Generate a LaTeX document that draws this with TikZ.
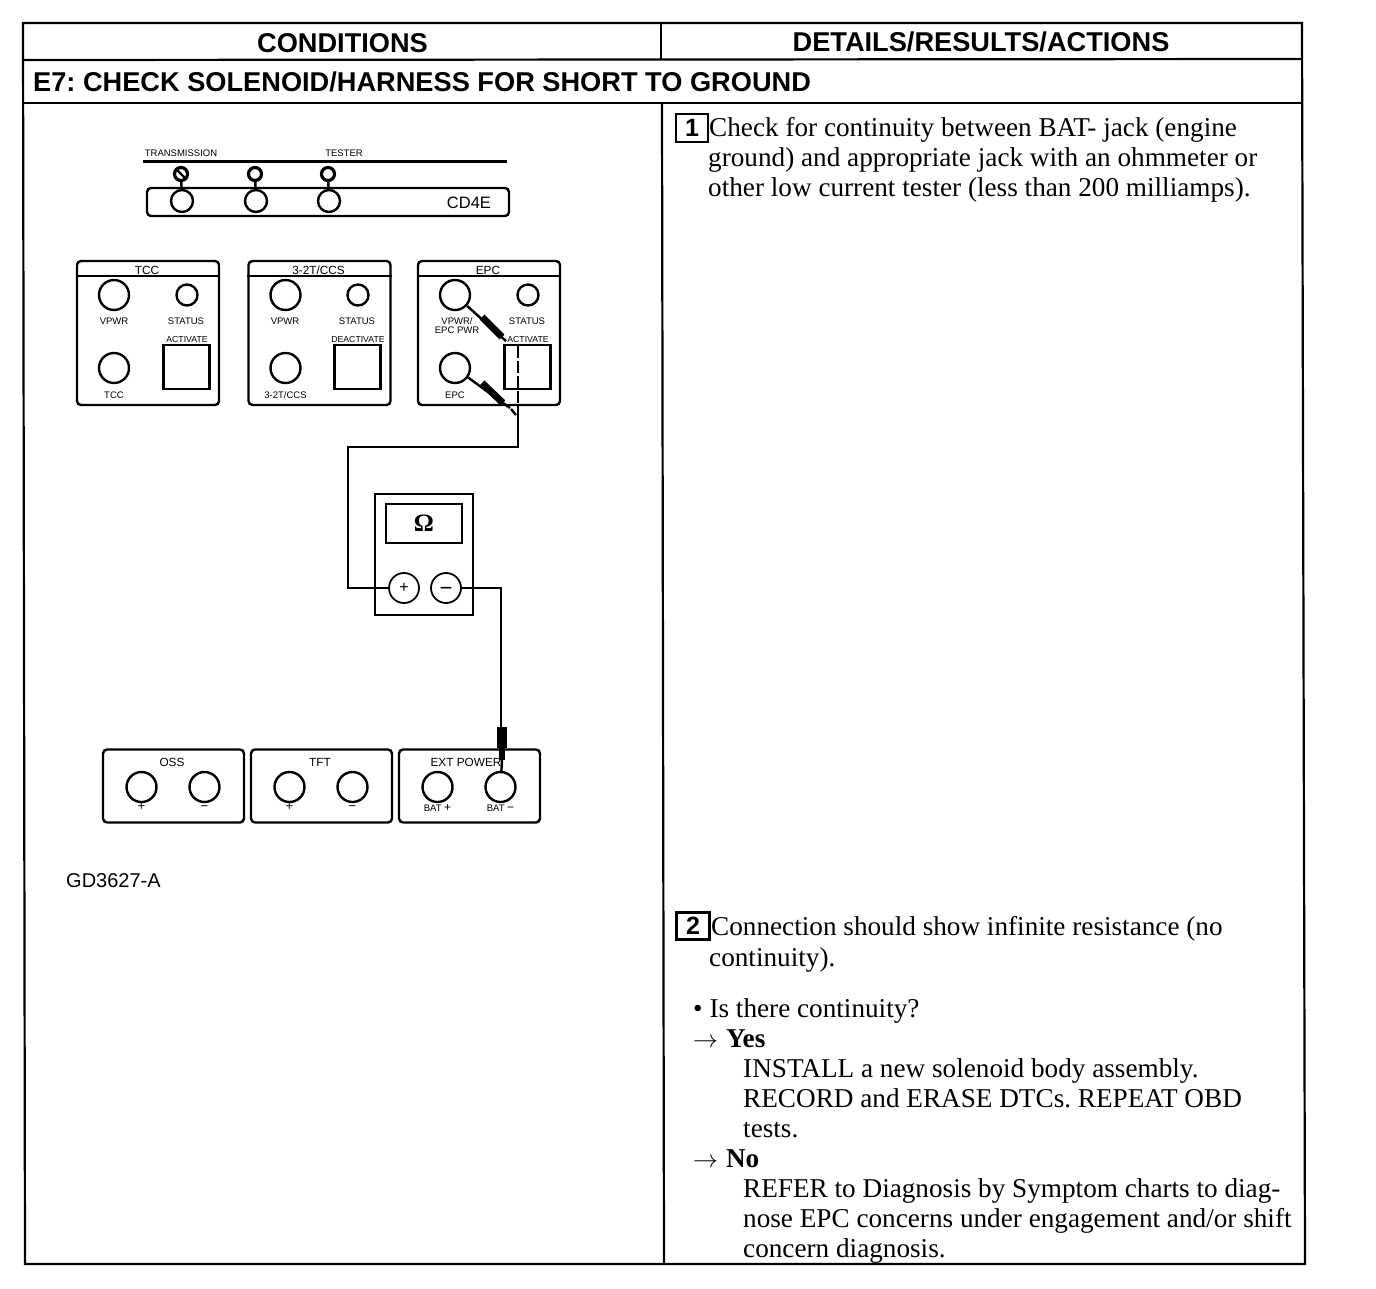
\documentclass[tikz,border=0pt]{standalone}
\usepackage{fontspec}
\setmainfont{Liberation Serif}
\setsansfont{Liberation Sans}
\usetikzlibrary{positioning,calc}
\newcommand{\signmark}[1]{\smash{\raisebox{-.3em}{\fontsize{13}{13}\selectfont #1}}}
\newcommand{\batsign}[1]{{\fontsize{12}{12}\selectfont #1}}
\tikzset{
  frameline/.style={line width=2.2pt},
  headtext/.style={font=\fontsize{27.2}{30}\selectfont\sffamily\bfseries,inner sep=0pt},
  bodytext/.style={font=\fontsize{27.2}{30}\selectfont,anchor=base west,inner sep=0pt},
  numbox/.style={draw,line width=2.4pt,font=\fontsize{25}{28}\selectfont\sffamily\bfseries,inner sep=0pt},
  panel/.style={draw,line width=2.4pt,rounded corners=4pt,inner sep=0pt},
  jack/.style={draw,circle,line width=2.4pt,inner sep=0pt,minimum size=30pt},
  smalljack/.style={jack,minimum size=21pt},
  pin/.style={jack,minimum size=13pt},
  tiny/.style={font=\fontsize{9.5}{10}\selectfont\sffamily,inner sep=0pt,align=center},
  tinyhead/.style={font=\fontsize{11.8}{12}\selectfont\sffamily,inner sep=0pt},
  tinyact/.style={font=\fontsize{8.7}{9}\selectfont\sffamily,inner sep=0pt},
  wire/.style={line width=2.4pt},
  probe/.style={line width=7pt}
}
\begin{document}
\frenchspacing
\begin{tikzpicture}[x=1pt,y=-1pt]
  \useasboundingbox (0,0) rectangle (1376,1288);
  % table
  \draw[frameline] (23,23)--(1302,23)--(1305,1264)--(25,1264)--cycle;
  \draw[frameline] (661,23)--(661,60);
  \draw[frameline] (662,103)--(664,1264);
  \draw[frameline] (23,60)--(1302,59);
  \draw[frameline] (23,103)--(1302,103);
  \node[headtext] (condhead) at (342.5,43) {CONDITIONS};
  \node[headtext] (detailhead) at (981,42) {DETAILS/RESULTS/ACTIONS};
  \node[headtext,anchor=base west] (e7head) at (33,91) {E7: CHECK SOLENOID/HARNESS FOR SHORT TO GROUND};
  % right column
  \node[numbox,minimum width=32pt,minimum height=28pt] (numone) at (692,128) {1};
  \node[numbox,minimum width=33pt,minimum height=27pt] (numtwo) at (693,926) {2};
  \foreach \i/\x/\y/\txt in {
    1/709/136.5/{Check for continuity between BAT- jack (engine},
    2/708/166.5/{ground) and appropriate jack with an ohmmeter or},
    3/708/196.5/{other low current tester (less than 200 milliamps).},
    4/711/935/{Connection should show infinite resistance (no},
    5/709/966/{continuity).},
    6/693/1017/{\textbullet\ Is there continuity?},
    7/693/1047/{$\rightarrow$\hspace{8pt}\textbf{Yes}},
    8/743/1077/{INSTALL a new solenoid body assembly.},
    9/743/1107/{RECORD and ERASE DTCs. REPEAT OBD},
    10/743/1137/{tests.},
    11/693/1167/{$\rightarrow$\hspace{8pt}\textbf{No}},
    12/743/1197/{REFER to Diagnosis by Symptom charts to diag-},
    13/743/1227/{nose EPC concerns under engagement and/or shift},
    14/743/1257/{concern diagnosis.}}
    \node[bodytext] (line\i) at (\x,\y) {\txt};
  % connector strip
  \draw[line width=3pt] (143,161)--(507,161);
  \node[tiny] (translab) at (181,153) {TRANSMISSION};
  \node[tiny] (testerlab) at (344,153) {TESTER};
  \node[panel,minimum width=362pt,minimum height=28pt] (strip) at (328,202) {};
  \node[font=\fontsize{16.5}{18}\selectfont\sffamily,inner sep=0pt] (cdlab) at (469,203) {CD4E};
  \foreach \n/\x in {a/182,b/256,c/329}{
    \node[smalljack,minimum size=22pt] (sj\n) at (\x,201) {};
    \node[pin,line width=3.2pt] (sp\n) at (\x-1,174) {};
    \draw[wire] (sp\n)--(sj\n);
  }
  \draw[wire] (spa.north west)--(spa.south east);
  % upper panels
  \foreach \n/\x/\hd/\sq/\lowlab/\act in {
    tcc/148/TCC/187/TCC/ACTIVATE,
    ccs/319.5/3-2T\slash CCS/358/3-2T\slash CCS/DEACTIVATE,
    epc/489/EPC/528/EPC/ACTIVATE}{
    \node[panel,minimum width=142pt,minimum height=144pt] (\n) at (\x,333) {};
    \draw[frameline] (\n.west|-0,276)--(\n.east|-0,276);
    \node[tinyhead] (\n head) at (\x-1,270) {\hd};
    \node[jack] (\n up) at (\x-34,295) {};
    \node[smalljack] (\n stat) at (\sq,295) {};
    \node[jack] (\n low) at (\x-34,368) {};
    \node[tiny] (\n slab) at (\sq-1,321) {STATUS};
    \node[tinyact] (\n act) at (\sq,339) {\act};
    \node[draw,line width=2.8pt,minimum width=46pt,minimum height=44pt,inner sep=0pt] (\n sq) at (\sq-.5,367) {};
    \node[tiny] (\n llab) at (\x-34,395) {\lowlab};
  }
  \node[tiny] (tccvp) at (114,321) {VPWR};
  \node[tiny] (ccsvp) at (285,321) {VPWR};
  \node[tiny] (epcvp) at (457,326) {VPWR/\\[-1pt]EPC PWR};
  % meter
  \node[draw,line width=2.8pt,minimum width=98pt,minimum height=121pt,inner sep=0pt] (meter) at (424,554.5) {};
  \node[draw,line width=1.8pt,minimum width=76pt,minimum height=39pt,inner sep=0pt,font=\fontsize{25}{26}\selectfont\bfseries] (display) at (424,523.5) {Ω};
  \node[jack,line width=1.8pt,font=\fontsize{16}{16}\selectfont\sffamily] (plus) at (404,588) {+};
  \node[jack,line width=1.8pt,font=\fontsize{22}{22}\selectfont\sffamily] (minus) at (446,588) {\smash{\raisebox{-.33em}{−}}};
  % lower panels
  \foreach \n/\x/\hx/\hd/\la/\lb in {
    oss/173.5/172/OSS/\signmark{+}/\signmark{−},
    tft/321.5/320/TFT/\signmark{+}/\signmark{−},
    ext/469.5/466/EXT POWER/BAT \batsign{+}/BAT \batsign{−}}{
    \node[panel,minimum width=141pt,minimum height=73pt] (\n) at (\x,786) {};
    \node[tinyhead] (\n head) at (\hx,762) {\hd};
    \node[jack] (\n p) at (\x-32,787) {};
    \node[jack] (\n m) at (\x+31,787) {};
    \node[tiny] (\n pl) at (\x-32,808) {\la};
    \node[tiny] (\n ml) at (\x+31,808) {\lb};
  }
  \node[font=\fontsize{20}{20}\selectfont\sffamily,anchor=base west,inner sep=0pt] (figcode) at (66,887) {GD3627-A};
  % wires and probes
  \coordinate (tipa) at (506,341);
  \coordinate (tipb) at (510,408);
  \coordinate (tie) at (518,405);
  \coordinate (topr) at (518,447);
  \coordinate (topl) at (348,447);
  \coordinate (botl) at (348,588);
  \coordinate (botr) at (501,588);
  \coordinate (plug) at (501,727);
  \draw[wire] (epcup)--(tipa);
  \draw[wire] (epclow)--(tipb);
  \draw[probe] (482,317)--(502,337);
  \draw[probe] (482,383)--(503,403);
  \draw[wire] (511,409)--(516,415);
  \draw[wire,dash pattern=on 12pt off 3pt] (518,346)--(tie);
  \draw[wire] (tie)--(topr)--(topl)--(botl)--(plus);
  \draw[wire] (minus)--(botr)--(plug);
  \draw[line width=10pt] (502,727)--(502,748);
  \draw[line width=6pt] (502,748)--(502,760);
  \draw[wire] (502,760)--(extm);
\end{tikzpicture}
\end{document}
